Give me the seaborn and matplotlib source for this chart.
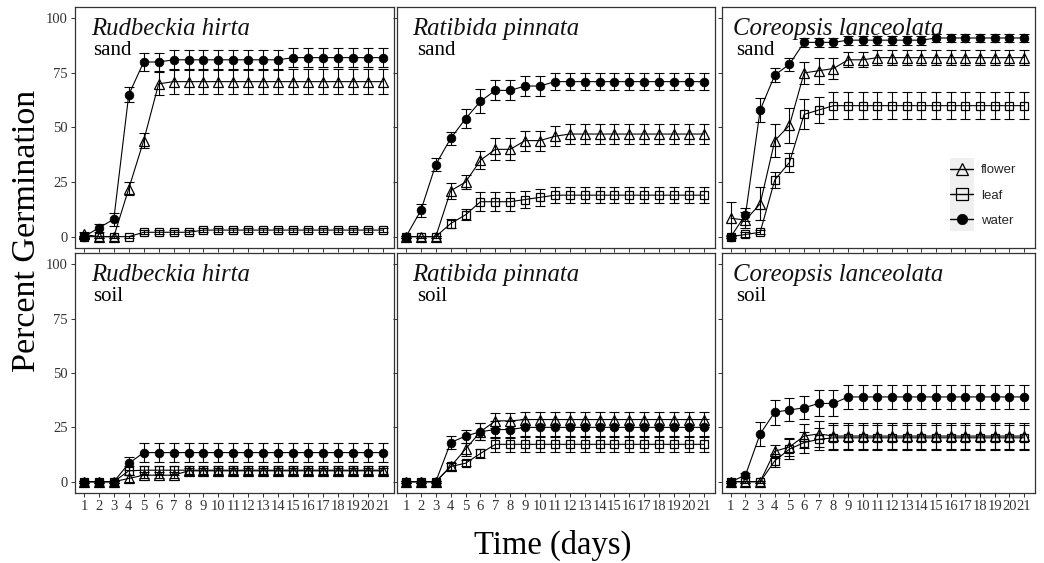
import numpy as np
import pandas as pd
import matplotlib
matplotlib.use("Agg")
import matplotlib.pyplot as plt
from matplotlib.lines import Line2D
from matplotlib.patches import Rectangle
import seaborn as sns

days = list(range(1, 22))
species = ["Rudbeckia hirta", "Ratibida pinnata", "Coreopsis lanceolata"]
substrates = ["sand", "soil"]
treatments = ["flower", "leaf", "water"]

# ---- Rudbeckia hirta, sand
rh_sand_flower = [1, 0, 0, 22, 44, 70] + [71] * 15
rh_sand_flower_se = [1, 0.5, 0.5, 3, 3.5, 5.3] + [5.7] * 15
rh_sand_leaf = [0, 0, 0, 0, 2, 2, 2, 2] + [3] * 13
rh_sand_leaf_se = [0.5] * 4 + [1] * 17
rh_sand_water = [0, 4, 8, 65, 80, 80] + [81] * 8 + [82] * 7
rh_sand_water_se = [0.5, 2, 3, 3.5, 4, 4] + [4.5] * 15

# ---- Ratibida pinnata, sand
rp_sand_flower = [0, 0, 0, 21, 25, 35, 40, 40, 44, 44, 46] + [47] * 10
rp_sand_flower_se = [0.5, 0.5, 0.5, 3.8, 3.3, 4.2, 5, 5, 4.6, 4.6, 4.6] + [4.6] * 10
rp_sand_leaf = [0, 0, 0, 6, 10, 16, 16, 16, 17, 18] + [19] * 11
rp_sand_leaf_se = [0.5, 0.5, 0.5, 2, 2.5, 4.4, 4.4, 4.4, 4, 3.8] + [3.6] * 11
rp_sand_water = [0, 12, 33, 45, 54, 62, 67, 67, 69, 69] + [71] * 11
rp_sand_water_se = [0.5, 3, 2.8, 3, 4.3, 5.5, 4.6, 4.6, 4.6, 4.6] + [4] * 11

# ---- Coreopsis lanceolata, sand
cl_sand_flower = [8.4, 7.6, 15, 44, 51, 75, 76, 77, 81, 81] + [82] * 11
cl_sand_flower_se = [7.6, 3.8, 7.6, 7.6, 8, 5, 6, 5, 3.4, 3.4] + [3.4] * 11
cl_sand_leaf = [0, 1, 2, 26, 34, 56, 58] + [60] * 14
cl_sand_leaf_se = [0.5, 1, 1, 3.6, 4.2, 6.9, 6] + [6.1] * 14
cl_sand_water = [0, 10, 58, 74, 79, 89, 89, 89] + [90] * 6 + [91] * 7
cl_sand_water_se = [0.5, 3, 5.3, 3.3, 3, 2, 2, 2] + [2] * 13

# ---- Rudbeckia hirta, soil
rh_soil_flower = [0, 0, 0, 1.5, 3, 3, 3] + [5] * 14
rh_soil_flower_se = [0.5, 0.5, 0.5, 1.5, 1.5, 1.5, 1.5] + [1.5] * 14
rh_soil_leaf = [0, 0, 0, 5] + [5.3] * 17
rh_soil_leaf_se = [0.5, 0.5, 0.5, 2] + [2] * 17
rh_soil_water = [0, 0, 0, 8.4] + [13.4] * 17
rh_soil_water_se = [0.5, 0.5, 0.5, 3] + [4.4] * 17

# ---- Ratibida pinnata, soil
rp_soil_flower = [0, 0, 0, 7, 15, 23, 28, 28] + [28.6] * 13
rp_soil_flower_se = [0.5, 0.5, 0.5, 1.5, 3, 4, 3.5, 3.5] + [3.5] * 13
rp_soil_leaf = [0, 0, 0, 7, 8.5, 13] + [17.2] * 15
rp_soil_leaf_se = [0.5, 0.5, 0.5, 1.5, 1.5, 2] + [3.4] * 15
rp_soil_water = [0, 0, 0, 18, 21, 23, 24, 24] + [25] * 13
rp_soil_water_se = [0.5, 0.5, 0.5, 3, 3, 4, 3.8, 3.8] + [3.8] * 13

# ---- Coreopsis lanceolata, soil
cl_soil_flower = [0, 0, 0, 14, 16, 21, 22] + [21] * 14
cl_soil_flower_se = [0.5, 0.5, 0.5, 3, 4, 5.5, 6] + [6] * 14
cl_soil_leaf = [0, 0, 0, 9.6, 15, 18, 19.5] + [20.2] * 14
cl_soil_leaf_se = [0.5, 0.5, 0.5, 3, 4.5, 5, 5] + [5.8] * 14
cl_soil_water = [0, 3, 22, 32, 33, 34, 36, 36] + [39] * 13
cl_soil_water_se = [0.5, 1, 5.5, 5.7, 5.3, 5.3, 6, 6] + [5.6] * 13

series = {
    ("Rudbeckia hirta", "sand"): [(rh_sand_flower, rh_sand_flower_se), (rh_sand_leaf, rh_sand_leaf_se), (rh_sand_water, rh_sand_water_se)],
    ("Ratibida pinnata", "sand"): [(rp_sand_flower, rp_sand_flower_se), (rp_sand_leaf, rp_sand_leaf_se), (rp_sand_water, rp_sand_water_se)],
    ("Coreopsis lanceolata", "sand"): [(cl_sand_flower, cl_sand_flower_se), (cl_sand_leaf, cl_sand_leaf_se), (cl_sand_water, cl_sand_water_se)],
    ("Rudbeckia hirta", "soil"): [(rh_soil_flower, rh_soil_flower_se), (rh_soil_leaf, rh_soil_leaf_se), (rh_soil_water, rh_soil_water_se)],
    ("Ratibida pinnata", "soil"): [(rp_soil_flower, rp_soil_flower_se), (rp_soil_leaf, rp_soil_leaf_se), (rp_soil_water, rp_soil_water_se)],
    ("Coreopsis lanceolata", "soil"): [(cl_soil_flower, cl_soil_flower_se), (cl_soil_leaf, cl_soil_leaf_se), (cl_soil_water, cl_soil_water_se)],
}

# long table for seaborn
rows = []
for (sp, sub), trts in series.items():
    for trt, (vals, ses) in zip(treatments, trts):
        for d, v, s in zip(days, vals, ses):
            rows.append({"species": sp, "substrate": sub, "treatment": trt, "day": d, "pct": v, "se": s})
df = pd.DataFrame(rows)

sns.set_style("white")
plt.rcParams["font.family"] = ["Liberation Serif", "DejaVu Serif"]

marker_style = {
    "flower": dict(marker="^", markersize=7.5, markerfacecolor="none", markeredgecolor="black", markeredgewidth=0.9),
    "leaf": dict(marker="s", markersize=6.3, markerfacecolor="none", markeredgecolor="black", markeredgewidth=0.9),
    "water": dict(marker="o", markersize=6.3, markerfacecolor="black", markeredgecolor="black", markeredgewidth=0.5),
}

fig = plt.figure(figsize=(10.44, 5.63), dpi=100)
col_left = [0.0718, 0.3803, 0.6916]
col_width = [0.3056, 0.3046, 0.2998]
row_bottom = [0.5595, 0.1243]
row_height = [0.4281, 0.4263]
title_x = [0.052, 0.046, 0.034]
label_x = [0.058, 0.062, 0.045]
tick_color = "#333333"

for r, sub in enumerate(substrates):
    for c, sp in enumerate(species):
        ax = fig.add_axes([col_left[c], row_bottom[r], col_width[c], row_height[r]])
        sub_df = df[(df["species"] == sp) & (df["substrate"] == sub)]
        for trt in treatments:
            t_df = sub_df[sub_df["treatment"] == trt]
            ax.errorbar(t_df["day"], t_df["pct"], yerr=t_df["se"], fmt="none",
                        ecolor="black", elinewidth=0.8, capsize=3.5, capthick=0.8, zorder=2)
            sns.lineplot(data=t_df, x="day", y="pct", ax=ax, color="black",
                         linewidth=0.8, legend=False, zorder=3, **marker_style[trt])
        ax.set_xlim(0.4, 21.75)
        ax.set_ylim(-5.2, 105.2)
        ax.set_xticks(days)
        ax.set_yticks([0, 25, 50, 75, 100])
        ax.set_xlabel("")
        ax.set_ylabel("")
        ax.tick_params(axis="both", length=3, width=0.7, color=tick_color,
                       labelsize=10.5, labelcolor=tick_color, pad=2, bottom=True, left=True)
        if r == 0:
            ax.tick_params(axis="x", labelbottom=False)
        if c > 0:
            ax.tick_params(axis="y", labelleft=False)
        for s in ax.spines.values():
            s.set_color(tick_color)
            s.set_linewidth(0.9)
        ax.text(title_x[c], 0.885, sp, transform=ax.transAxes, fontsize=17.8,
                style="italic", va="baseline", ha="left", color="#111111")
        ax.text(label_x[c], 0.800, sub, transform=ax.transAxes, fontsize=15,
                va="baseline", ha="left", color="black")

        if r == 0 and c == 2:
            leg_style = {
                "flower": dict(marker_style["flower"], markersize=9),
                "leaf": dict(marker_style["leaf"], markersize=8),
                "water": dict(marker_style["water"], markersize=7.5),
            }
            handles = [Line2D([0], [0], color="black", linewidth=1.0, **leg_style[t]) for t in treatments]
            leg = ax.legend(handles, treatments, loc="upper left",
                            bbox_to_anchor=(950 / 1044, 1 - 164 / 563),
                            bbox_transform=fig.transFigure, frameon=False,
                            prop={"family": "Liberation Sans", "size": 9.5},
                            handlelength=1.75, handletextpad=0.6, labelspacing=1.0,
                            borderpad=0, borderaxespad=0)
            leg.set_zorder(6)
            ax.add_patch(Rectangle((950 / 1044, 1 - 231 / 563), 24 / 1044, 73 / 563,
                                   transform=fig.transFigure, facecolor="#f0f0f0",
                                   edgecolor="none", zorder=0.5, clip_on=False))

fig.text(0.026, 1 - 231 / 563, "Percent Germination", rotation=90, fontsize=24.5,
         ha="center", va="center", color="black")
fig.text(553 / 1044, 1 - 545 / 563, "Time (days)", fontsize=23.5,
         ha="center", va="center", color="black")

fig.savefig("out.png", dpi=100)
